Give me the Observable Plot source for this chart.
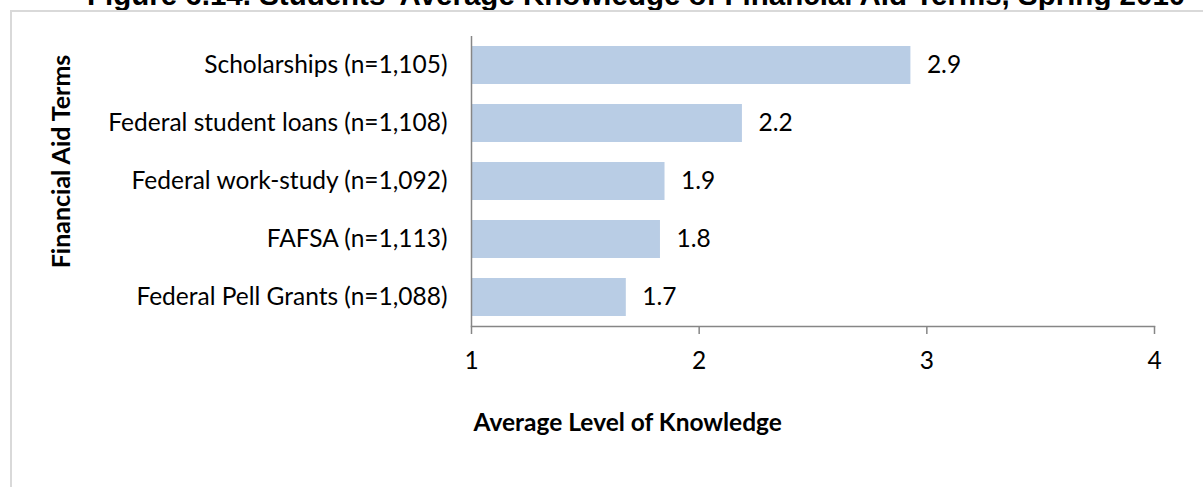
<!DOCTYPE html>
<html>
<head>
<meta charset="utf-8">
<script src="https://cdn.jsdelivr.net/npm/d3@7"></script>
<script src="https://cdn.jsdelivr.net/npm/@observablehq/plot@0.6"></script>
<style>
  html, body { margin: 0; padding: 0; background: #fff; }
  #wrap { position: relative; width: 1203px; height: 487px; overflow: hidden; background: #fff; }
  #title { position: absolute; left: 87px; top: -20px; margin: 0; white-space: nowrap;
           font-family: "Liberation Sans", Arial, sans-serif; font-weight: bold; font-size: 29.5px; line-height: 1; color: #000; }
  #border { position: absolute; left: 10px; top: 10px; width: 1300px; height: 600px;
            border-left: 2px solid #d9d9d9; border-top: 2px solid #d9d9d9; }
  #chart { position: absolute; left: 0; top: 0; }
</style>
</head>
<body>
<div id="wrap">
  <h1 id="title">Figure 6.14. Students' Average Knowledge of Financial Aid Terms, Spring 2010</h1>
  <div id="border"></div>
  <div id="chart"></div>
</div>
<script>
const categories = [
  "Scholarships (n=1,105)",
  "Federal student loans (n=1,108)",
  "Federal work-study (n=1,092)",
  "FAFSA (n=1,113)",
  "Federal Pell Grants (n=1,088)"
];
const values = [2.93, 2.19, 1.85, 1.83, 1.68];
const valueLabels = ["2.9", "2.2", "1.9", "1.8", "1.7"];
const xTicks = [1, 2, 3, 4];
const xTitle = "Average Level of Knowledge";
const yTitle = "Financial Aid Terms";

const data = categories.map((c, i) => ({cat: c, value: values[i], label: valueLabels[i]}));
const axisColor = "#868686";
const font = "Lato, 'Open Sans', sans-serif";
const fs = 24.5;

const chart = Plot.plot({
  width: 1203,
  height: 487,
  marginLeft: 471,
  marginRight: 49,
  marginTop: 36,
  marginBottom: 161,
  style: {fontFamily: font, fontSize: fs + "px", color: "#000", background: "transparent", overflow: "visible"},
  x: {domain: [xTicks[0], xTicks[xTicks.length - 1]], ticks: xTicks, tickFormat: d => String(d), label: null},
  y: {domain: categories, paddingInner: 0.342, paddingOuter: 0.171, label: null},
  marks: [
    Plot.barX(data, {x1: () => xTicks[0], x2: "value", y: "cat", fill: "#b9cde5"}),
    Plot.text(data, {x: "value", y: "cat", text: "label", textAnchor: "start", dx: 16, fontSize: fs, fill: "#000"}),
    Plot.ruleX([xTicks[0]], {stroke: axisColor, strokeWidth: 1.5}),
    Plot.frame({anchor: "bottom", stroke: axisColor, strokeWidth: 1.5}),
    Plot.axisX({ticks: xTicks, tickFormat: d => String(d), tickSize: 8, tickPadding: 17, stroke: axisColor, strokeWidth: 1.5, fill: "#000", fontSize: fs, label: null}),
    Plot.axisY({tickSize: 0, tickPadding: 24, fontSize: fs, fill: "#000", label: null}),
    Plot.text([yTitle], {frameAnchor: "left", textAnchor: "middle", dx: -410, dy: -20, rotate: -90, fontWeight: "bold", fontSize: 25, fill: "#000"}),
    Plot.text([xTitle], {frameAnchor: "bottom-left", textAnchor: "start", dx: 2, dy: 104, fontWeight: "bold", fontSize: fs, fill: "#000"})
  ]
});
document.getElementById("chart").appendChild(chart);
</script>
</body>
</html>
